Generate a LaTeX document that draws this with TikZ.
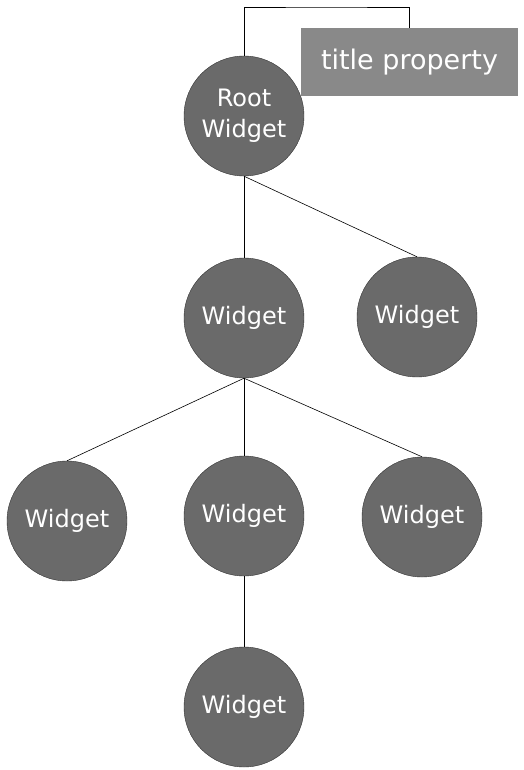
\documentclass[tikz,border=0pt]{standalone}
\usepackage{fontspec}
\setmainfont{DejaVu Sans}
\definecolor{widgetgray}{HTML}{6A6A6A}
\definecolor{titlegray}{HTML}{898989}

\begin{document}
\begin{tikzpicture}[x=1pt,y=-1pt,
	widget/.style={shape=circle,draw=black!80,fill=widgetgray,text=white,
		minimum size=120pt,inner sep=0pt,align=center,font=\fontsize{24}{31}\selectfont},
	titlebox/.style={shape=rectangle,fill=titlegray,text=white,
		minimum width=217pt,minimum height=68pt,inner sep=0pt,font=\fontsize{27}{32}\selectfont},
	link/.style={draw=black,line width=0.6pt}]

	\useasboundingbox (0,0) rectangle (523,770);

	\node[widget] (root) at (244, 116)   {Root\\Widget};
	\node[widget] (w) at (244, 318)      {Widget};
	\node[widget] (wr) at (417, 317)     {Widget};
	\node[widget] (wa) at (67, 521)      {Widget};
	\node[widget] (wb) at (244, 516)     {Widget};
	\node[widget] (wc) at (422, 517)     {Widget};
	\node[widget] (wd) at (244, 707)     {Widget};

	\node[titlebox] (title) at (409.5, 62) {title property};
	\coordinate (top) at (326, 7);

	\path[link] (root.north) |- (top) -| (title.north);

	\path[link] (root.south) edge (w.north);
	\path[link] (root.south) edge (wr.north);

	\path[link] (w.south) edge (wa.north);
	\path[link] (w.south) edge (wb.north);
	\path[link] (w.south) edge (wc.north);

	\path[link] (wb.south) edge (wd.north);

\end{tikzpicture}
\end{document}
